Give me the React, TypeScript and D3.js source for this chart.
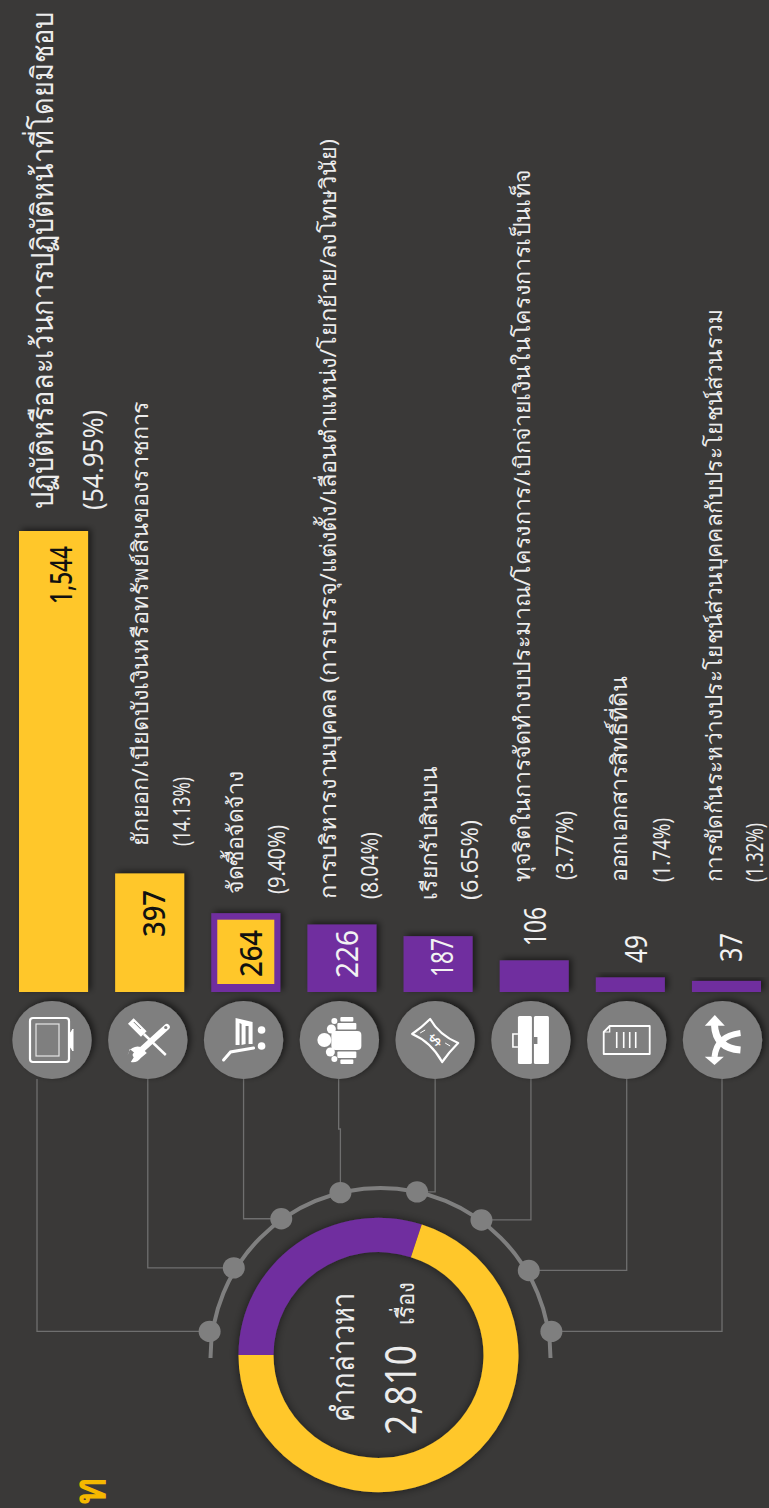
import React from "react";
import * as d3 from "d3";

const categories = [
  "ปฏิบัติหรือละเว้นการปฏิบัติหน้าที่โดยมิชอบ",
  "ยักยอก/เบียดบังเงินหรือทรัพย์สินของราชการ",
  "จัดซื้อจัดจ้าง",
  "การบริหารงานบุคคล (การบรรจุ/แต่งตั้ง/เลื่อนตำแหน่ง/โยกย้าย/ลงโทษวินัย)",
  "เรียกรับสินบน",
  "ทุจริตในการจัดทำงบประมาณ/โครงการ/เบิกจ่ายเงินในโครงการเป็นเท็จ",
  "ออกเอกสารสิทธิ์ที่ดิน",
  "การขัดกันระหว่างประโยชน์ส่วนบุคคลกับประโยชน์ส่วนรวม",
];
const values = [1544, 397, 264, 226, 187, 106, 49, 37];
const valueLabels = ["1,544", "397", "264", "226", "187", "106", "49", "37"];
const percents = ["(54.95%)", "(14.13%)", "(9.40%)", "(8.04%)", "(6.65%)", "(3.77%)", "(1.74%)", "(1.32%)"];
const barColors = ["yellow", "yellow", "both", "purple", "purple", "purple", "purple", "purple"];
const donutShares = [843, 1967];
const donutTotal = "2,810";

// layout, separate from the data
const BG = "#3a3938";
const YELLOW = "#FFC72A";
const PURPLE = "#6F2F9F";
const GREY = "#7f7f7f";
const LINE = "#6f6f6f";
const TEXT = "#ececec";
const FONT = "'Noto Sans', 'DejaVu Sans', sans-serif";

const catLayout = [
  { x: 53, bottom: 509, len: 497, size: 27, stretch: 1.12 },
  { x: 148, bottom: 846, len: 445, size: 22 },
  { x: 243, bottom: 894, len: 123, size: 22 },
  { x: 336, bottom: 899, len: 760, size: 22 },
  { x: 437, bottom: 900, len: 133, size: 22 },
  { x: 530, bottom: 882, len: 713, size: 22 },
  { x: 627, bottom: 882, len: 206, size: 22 },
  { x: 722, bottom: 882, len: 573, size: 22 },
];
const pctLayout = [
  { x: 103, bottom: 510, len: 100, size: 28 },
  { x: 190, bottom: 846, len: 69, size: 23 },
  { x: 285, bottom: 894, len: 69, size: 23 },
  { x: 378, bottom: 899, len: 67, size: 23 },
  { x: 478, bottom: 900, len: 80, size: 23 },
  { x: 573, bottom: 880, len: 69, size: 23 },
  { x: 670, bottom: 882, len: 64, size: 23 },
  { x: 763, bottom: 882, len: 59, size: 23 },
];
const valLayout = [
  { x: 72, bottom: 604, len: 58 },
  { x: 165, bottom: 937, len: 47 },
  { x: 262, bottom: 977, len: 47 },
  { x: 358, bottom: 978, len: 48 },
  { x: 453, bottom: 977, len: 39 },
  { x: 546, bottom: 946, len: 39 },
  { x: 647, bottom: 963, len: 28 },
  { x: 742, bottom: 962, len: 29 },
];

const barX = d3.scaleBand<number>().domain(d3.range(8)).range([19, 761]).paddingInner(0.282).paddingOuter(0);
const barY = d3.scaleLinear().domain([0, 1544]).range([992, 531]);
const iconX = d3.scalePoint<number>().domain(d3.range(8)).range([52, 722.5]);
const ICON_Y = 1040;

const CX = 378.5;
const CY = 1355;
const arcGen = d3.arc<d3.PieArcDatum<number>>().innerRadius(105).outerRadius(140);
const pie = d3
  .pie<number>()
  .sort(null)
  .startAngle(-Math.PI / 2)
  .endAngle((3 * Math.PI) / 2);

const RX = 380.5;
const RY = 1358;
const NODE_RX = 173;
const NODE_RY = 170;
const nodeAngles = [-81, -58, -35, -13.4, 12.2, 35.7, 59, 81];
const ringArc = d3
  .arc()
  .innerRadius(168)
  .outerRadius(172)
  .startAngle((-90 * Math.PI) / 180)
  .endAngle((90 * Math.PI) / 180);
const nodePos = (a: number) => {
  const t = (a * Math.PI) / 180;
  return [RX + NODE_RX * Math.sin(t), RY - NODE_RY * Math.cos(t)];
};

const VText = ({ x, y, len, size, fill = TEXT, weight = 400, stretch = 1, children }: any) => (
  <text
    transform={`translate(${x},${y}) rotate(-90) scale(1,${stretch})`}
    textLength={len}
    lengthAdjust="spacingAndGlyphs"
    fontSize={size}
    fontWeight={weight}
    fill={fill}
    fontFamily={FONT}
  >
    {children}
  </text>
);

const W = "#ffffff";
const icons: React.ReactNode[] = [
  <g key="0" fill="none" stroke={W}>
    <rect x={-22} y={-22} width={39} height={44} rx={3} strokeWidth={2.2} />
    <rect x={-16} y={-16} width={23} height={32} strokeWidth={1.2} opacity={0.8} />
    <path d="M17,-5 L21,-11 L21,11 L17,5 Z" fill={W} strokeWidth={1} />
  </g>,
  <g key="1">
    <path d="M19,-13 L-12,15" stroke={W} strokeWidth={6} strokeLinecap="round" />
    <path d="M-7,7 L-1,13 L-7,18 A10,10 0 0 1 -17,22 L-12,14 L-18,9 L-20,15 A10,10 0 0 1 -7,7 Z" fill={W} />
    <circle cx={18} cy={-12.5} r={1.6} fill={GREY} />
    <path d="M-17,-19 L-4,-6" stroke={W} strokeWidth={8} />
    <path d="M-4,-6 L18,15" stroke={W} strokeWidth={2.5} />
    <path d="M-14,-18 L-7,-11" stroke={GREY} strokeWidth={1} />
  </g>,
  <g key="2">
    <path d="M-20,20 L-13,12 L10,8" fill="none" stroke={W} strokeWidth={3} strokeLinecap="round" />
    <path d="M-8,-22 L9,-18 L9,4 L5,4 L5,-14 L2,-14 L2,4 L-2,5 L-2,-16 L-4,-17 L-4,5 L-8,5 Z" fill={W} />
    <circle cx={18} cy={-10} r={3.8} fill={W} />
    <circle cx={18} cy={6} r={3.8} fill={W} />
  </g>,
  <g key="3" fill={W}>
    <circle cx={-15} cy={0} r={7} />
    <rect x={-8} y={-9} width={30} height={19} rx={4} />
    <circle cx={-8} cy={-11} r={4.5} />
    <circle cx={-9} cy={12} r={4.5} />
    <circle cx={-5} cy={-19} r={3} />
    <circle cx={-5} cy={19} r={3} />
    <rect x={-2} y={-17} width={19} height={6.5} rx={1} />
    <rect x={-2} y={11.5} width={19} height={6.5} rx={1} />
    <rect x={1} y={-23} width={13} height={4.5} rx={1} />
    <rect x={1} y={19.5} width={13} height={4.5} rx={1} />
  </g>,
  <g key="4" fill="none" stroke={W} strokeWidth={2.2} strokeLinejoin="round">
    <path d="M-5,-21 Q4,-5 23,3 Q14,12 7,22 Q-4,2 -23,-6 Q-14,-12 -5,-21 Z" />
    <text x={0} y={6} fontSize={17} fill={W} stroke="none" fontFamily={FONT} transform="rotate(-45)" textAnchor="middle">
      $
    </text>
    <path d="M-10,-10 L-15,-7 M10,3 L15,6" strokeWidth={1} />
  </g>,
  <g key="5">
    <rect x={-13} y={-24} width={14} height={48} rx={1.5} fill={W} />
    <rect x={3} y={-24} width={15} height={48} rx={1.5} fill={W} />
    <path d="M-13,-6 L-18,-6 L-18,7 L-13,7" fill="none" stroke={W} strokeWidth={1.6} />
    <rect x={3} y={-3} width={3.5} height={7} fill={GREY} />
  </g>,
  <g key="6" fill="none" stroke={W}>
    <path d="M-17,-14 L23,-14 L23,14 L-23,14 L-23,-8 Z" strokeWidth={1.8} strokeLinejoin="round" />
    <path d="M-23,-8 L-17,-8 L-17,-14" strokeWidth={1.2} />
    <path d="M-10,-8 V8 M-3,-8 V8 M3,-8 V8 M9,-8 V8" strokeWidth={1.6} />
  </g>,
  <g key="7">
    <path d="M-8,-15 Q-7,8 18,10" fill="none" stroke={W} strokeWidth={7} />
    <path d="M-7.7,-25 L-17.7,-14.3 L2.3,-14.3 Z" fill={W} />
    <path d="M18,-7 Q-6,-4 -8,17" fill="none" stroke={W} strokeWidth={6} />
    <path d="M-8,25 L-17.7,16.7 L1.3,16.7 Z" fill={W} />
  </g>,
];

export default function App() {
  const arcs = pie(donutShares);
  return (
    <svg
      width={769}
      height={1508}
      viewBox="0 0 769 1508"
      style={{ position: "absolute", left: 0, top: 0, display: "block", background: BG }}
    >
      <defs>
        <filter id="barShadow" x="-30%" y="-30%" width="160%" height="160%">
          <feDropShadow dx={3} dy={-2} stdDeviation={3} floodColor="#000" floodOpacity={0.55} />
        </filter>
        <filter id="softShadow" x="-20%" y="-20%" width="140%" height="140%">
          <feDropShadow dx={0} dy={0} stdDeviation={5} floodColor="#000" floodOpacity={0.55} />
        </filter>
      </defs>
      <rect width={769} height={1508} fill={BG} />

      {/* connectors */}
      <g fill="none" stroke={LINE} strokeWidth={1.3}>
        {nodeAngles.map((a, i) => {
          const [nx, ny] = nodePos(a);
          const x = iconX(i)! + (i === 0 ? -15 : i === 7 ? -0.5 : 0);
          const d =
            i === 3 ? `M${x - 0.7},1079 V1129 H${nx} V${ny}` : `M${x},1079 V${ny} H${nx}`;
          return <path key={i} d={d} />;
        })}
      </g>

      {/* arc with nodes */}
      <g transform={`translate(${RX},${RY})`}>
        <path d={ringArc(null as any)!} fill={GREY} />
      </g>
      {nodeAngles.map((a, i) => {
        const [nx, ny] = nodePos(a);
        return <ellipse key={i} cx={nx} cy={ny} rx={11} ry={10.7} fill={GREY} />;
      })}

      {/* donut */}
      <g transform={`translate(${CX},${CY}) scale(1,0.98)`} filter="url(#softShadow)">
        {arcs.map((d, i) => (
          <path key={i} d={arcGen(d)!} fill={i === 0 ? PURPLE : YELLOW} />
        ))}
      </g>
      <VText x={354} y={1422} len={129} size={31}>คำกล่าวหา</VText>
      <VText x={416} y={1435} len={90} size={43}>{donutTotal}</VText>
      <VText x={414} y={1325} len={43} size={24}>เรื่อง</VText>

      {/* icons */}
      {values.map((_, i) => (
        <g key={i} transform={`translate(${iconX(i)},${ICON_Y})`}>
          <ellipse rx={39.7} ry={39} fill={GREY} filter="url(#barShadow)" />
          {icons[i]}
        </g>
      ))}

      {/* bars */}
      {values.map((v, i) => {
        const x = barX(i)!;
        const w = barX.bandwidth();
        const y = barY(v);
        const h = barY(0) - y;
        const c = barColors[i];
        return (
          <g key={i}>
            <rect x={x} y={y} width={w} height={h} fill={c === "yellow" ? YELLOW : PURPLE} filter="url(#barShadow)" />
            {c === "both" && <rect x={x + 6} y={y + 6.5} width={w - 12} height={h - 14.5} fill={YELLOW} />}
          </g>
        );
      })}

      {/* value labels */}
      {valueLabels.map((t, i) => (
        <VText
          key={i}
          x={valLayout[i].x}
          y={valLayout[i].bottom}
          len={valLayout[i].len}
          size={30}
          weight={barColors[i] === "purple" ? 400 : 500}
          fill={barColors[i] === "purple" ? "#f2f2f2" : "#111111"}
        >
          {t}
        </VText>
      ))}

      {/* category + percent */}
      {categories.map((t, i) => (
        <VText
          key={i}
          x={catLayout[i].x}
          y={catLayout[i].bottom}
          len={catLayout[i].len}
          size={catLayout[i].size}
          stretch={catLayout[i].stretch ?? 1}
        >
          {t}
        </VText>
      ))}
      {percents.map((t, i) => (
        <VText key={i} x={pctLayout[i].x} y={pctLayout[i].bottom} len={pctLayout[i].len} size={pctLayout[i].size}>
          {t}
        </VText>
      ))}

      <VText x={105} y={1504} len={26} size={44} fill="#F5B800" weight={600}>ท</VText>
    </svg>
  );
}
